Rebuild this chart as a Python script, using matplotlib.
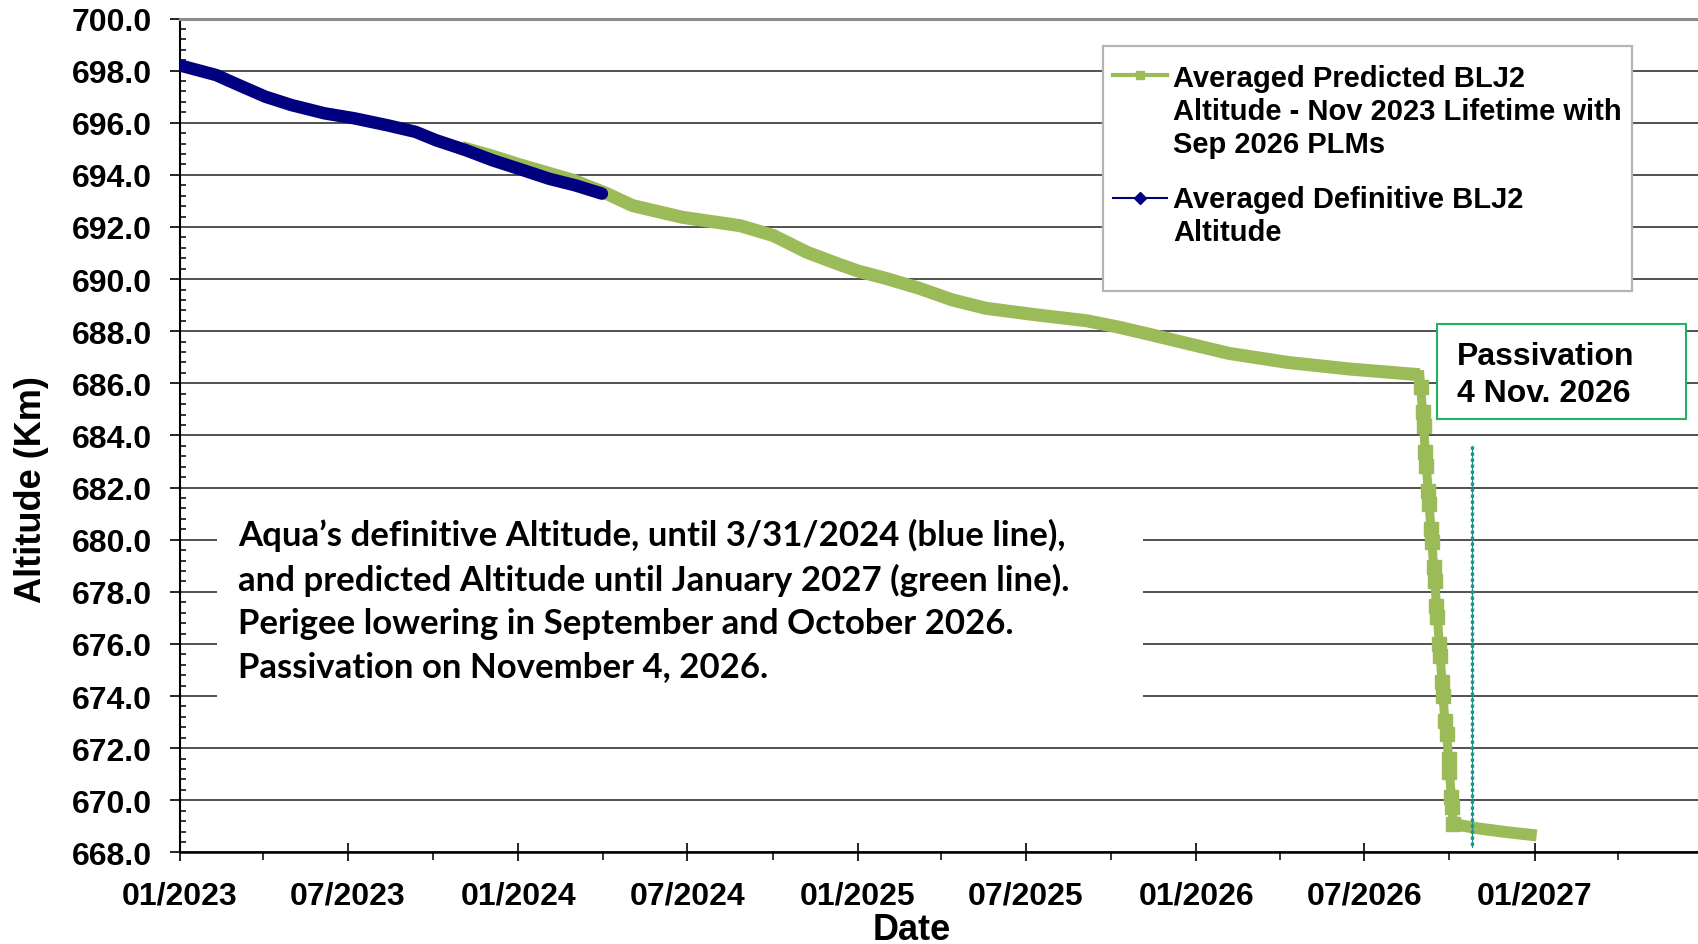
import numpy as np
import matplotlib
matplotlib.use('Agg')
import matplotlib.pyplot as plt
import matplotlib.dates as mdates
from matplotlib.ticker import MultipleLocator, FormatStrFormatter
from matplotlib.lines import Line2D
from matplotlib.patches import Rectangle
from matplotlib.legend_handler import HandlerLine2D

# definitive (blue) altitude, km
def_dates = ['2023-01-01', '2023-02-09', '2023-03-05', '2023-04-03', '2023-05-01',
             '2023-06-06', '2023-07-08', '2023-08-13', '2023-09-12', '2023-10-04',
             '2023-11-05', '2023-12-04', '2024-01-06', '2024-02-03', '2024-03-02',
             '2024-03-31']
def_alt = [698.20, 697.83, 697.45, 697.00, 696.68, 696.36, 696.17, 695.90, 695.65,
           695.33, 694.95, 694.56, 694.18, 693.85, 693.60, 693.28]

# predicted (green) altitude, km
pred_dates = ['2023-11-01', '2023-12-01', '2024-01-01', '2024-02-01', '2024-03-01',
              '2024-04-04', '2024-05-03', '2024-06-26', '2024-08-27', '2024-10-02',
              '2024-11-07', '2024-12-13', '2025-01-02', '2025-02-01', '2025-03-08',
              '2025-04-13', '2025-05-19', '2025-07-12', '2025-09-05', '2025-10-10',
              '2025-11-15', '2025-12-20', '2026-02-05', '2026-04-10', '2026-06-15',
              '2026-08-30',
              '2026-08-31', '2026-09-02', '2026-09-03', '2026-09-05', '2026-09-06',
              '2026-09-08', '2026-09-09', '2026-09-11', '2026-09-12', '2026-09-14',
              '2026-09-15', '2026-09-17', '2026-09-18', '2026-09-20', '2026-09-21',
              '2026-09-23', '2026-09-24', '2026-09-26', '2026-09-28', '2026-09-30',
              '2026-10-01', '2026-10-03', '2026-10-04', '2026-10-05',
              '2026-11-01', '2026-12-01', '2027-01-03']
pred_alt = [695.05, 694.75, 694.40, 694.08, 693.78,
            693.30, 692.82, 692.37, 692.05, 691.67,
            691.03, 690.55, 690.30, 690.02, 689.65,
            689.20, 688.88, 688.63, 688.40, 688.15,
            687.85, 687.55, 687.15, 686.80, 686.55,
            686.33,
            685.85, 684.89, 684.38, 683.35, 682.84,
            681.88, 681.37, 680.41, 679.90, 678.94,
            678.43, 677.47, 677.02, 676.00, 675.55,
            674.53, 674.02, 673.06, 672.55, 671.59,
            671.08, 670.12, 669.73, 669.09,
            668.92, 668.78, 668.65]

passivation_date = '2026-10-25'
passivation_span = [683.6, 668.2]

legend_labels = ['Averaged Predicted BLJ2\nAltitude - Nov 2023 Lifetime with\nSep 2026 PLMs',
                 'Averaged Definitive BLJ2\nAltitude']
note = ('Aqua\u2019s definitive Altitude, until 3/31/2024 (blue line),\n'
        'and predicted Altitude until January 2027 (green line).\n'
        'Perigee lowering in September and October 2026.\n'
        'Passivation on November 4, 2026.')

green = '#9bbb59'
navy = '#000080'


class FirstLineHandler(HandlerLine2D):
    # puts the legend handle next to the first line of a multi-line label
    def __init__(self, shift, **kw):
        super().__init__(**kw)
        self.shift = shift

    def create_artists(self, legend, orig_handle, xdescent, ydescent, width,
                       height, fontsize, trans):
        arts = super().create_artists(legend, orig_handle, xdescent, ydescent,
                                      width, height, fontsize, trans)
        for a in arts:
            a.set_ydata(np.asarray(a.get_ydata()) + self.shift)
        return arts


plt.rcParams['font.family'] = ['Liberation Sans', 'DejaVu Sans']
plt.rcParams['font.weight'] = 'bold'

d_def = np.array(def_dates, dtype='datetime64[D]')
d_pred = np.array(pred_dates, dtype='datetime64[D]')
a_pred = np.array(pred_alt)
i0 = pred_dates.index('2026-08-30')
i1 = pred_dates.index('2026-10-05')

fig = plt.figure(figsize=(16.98, 9.45), dpi=100)
ax = fig.add_axes([180 / 1698, 1 - 853.4 / 945, 1518 / 1698, 833.9 / 945])

# predicted: smooth part, PLM descent (with markers), tail
ax.plot(d_pred[:i0 + 1], a_pred[:i0 + 1], color=green, lw=9.4,
        solid_joinstyle='round', solid_capstyle='butt', zorder=3)
ax.plot(d_pred[i0:i1 + 1], a_pred[i0:i1 + 1], color=green, lw=6.5,
        marker='s', ms=10, markevery=list(range(1, i1 - i0 + 1)),
        solid_joinstyle='round', zorder=3)
ax.plot(d_pred[i1:], a_pred[i1:], color=green, lw=8.6,
        solid_capstyle='butt', zorder=3)
ax.plot(d_def, def_alt, color=navy, lw=9, solid_joinstyle='round',
        solid_capstyle='round', zorder=4)

# passivation marker line
pd_ = np.datetime64(passivation_date)
ax.plot([pd_, pd_], passivation_span, color='#4472c4', lw=0.8, zorder=4)
ax.plot([pd_, pd_], passivation_span, color='#00b050', lw=2.4,
        linestyle=(0, (1, 0.8)), zorder=5)

ax.set_xlim(np.datetime64('2023-01-01'), np.datetime64('2027-06-26'))
ax.set_ylim(668, 700)
ax.xaxis.set_major_locator(mdates.MonthLocator(bymonth=[1, 7]))
ax.xaxis.set_minor_locator(mdates.MonthLocator(bymonth=[4, 10]))
ax.xaxis.set_major_formatter(mdates.DateFormatter('%m/%Y'))
ax.yaxis.set_major_locator(MultipleLocator(2))
ax.yaxis.set_minor_locator(MultipleLocator(0.4))
ax.yaxis.set_major_formatter(FormatStrFormatter('%.1f'))

ax.grid(axis='y', which='major', color='#333333', lw=1.2)
ax.set_axisbelow(True)
ax.tick_params(axis='y', which='major', direction='out', length=7, width=1.2,
               pad=13, labelsize=23)
ax.tick_params(axis='y', which='minor', direction='in', length=4.5, width=1.1)
ax.tick_params(axis='x', which='major', direction='inout', length=13, width=1.2,
               pad=14, labelsize=23)
ax.tick_params(axis='x', which='minor', direction='out', length=6, width=1.1)

ax.spines['right'].set_visible(False)
ax.spines['top'].set_color('#8c8c8c')
ax.spines['top'].set_linewidth(2.2)
ax.spines['left'].set_linewidth(1.5)
ax.spines['bottom'].set_linewidth(1.8)

ax.set_xlabel('Date', fontsize=26, fontweight='bold')
ax.set_ylabel('Altitude (Km)', fontsize=26, fontweight='bold')
ax.xaxis.label.set_verticalalignment('baseline')
ax.xaxis.set_label_coords(0.482, -0.104)
ax.yaxis.set_label_coords(-0.086, 0.4358)

# note box (white, hides the grid)
ax.add_patch(Rectangle((0.0244, 0.166), 0.61, 0.2518, transform=ax.transAxes,
                       facecolor='white', edgecolor='none', zorder=2))
ax.text(0.0382, 0.303, note, transform=ax.transAxes, family=['Lato', 'DejaVu Sans'],
        fontweight='bold', fontsize=25, va='center', ha='left', linespacing=1.43,
        zorder=6)

# passivation box
ax.add_patch(Rectangle((0.828, 0.5197), 0.164, 0.1139, transform=ax.transAxes,
                       facecolor='white', edgecolor='#22b35e', lw=1.5, zorder=5))
ax.text(0.8412, 0.573, 'Passivation\n4 Nov. 2026', transform=ax.transAxes,
        fontsize=23, fontweight='bold', va='center', ha='left', linespacing=1.28,
        zorder=6)

# legend
ax.add_patch(Rectangle((0.608, 0.6732), 0.3485, 0.2943, transform=ax.transAxes,
                       facecolor='white', edgecolor='#b4b4b4', lw=1.6, zorder=5))
handles = [Line2D([], [], color=green, lw=3, marker='s', ms=6),
           Line2D([], [], color=navy, lw=1.5, marker='D', ms=6)]
leg = ax.legend(handles, legend_labels, loc='upper left',
                bbox_to_anchor=(0.6146, 0.946), frameon=False, fontsize=21,
                handlelength=1.86, handletextpad=0.2, borderpad=0,
                labelspacing=0.95, borderaxespad=0,
                handler_map={handles[0]: FirstLineHandler(26.2),
                             handles[1]: FirstLineHandler(13.1)})
leg.set_zorder(6)
for t in leg.get_texts():
    t.set_linespacing(1.23)

fig.savefig('out.png', dpi=100)
